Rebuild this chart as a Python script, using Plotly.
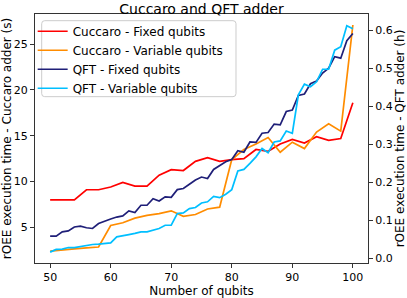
import plotly.graph_objects as go

# ---- data ----
x_even = list(range(50, 101, 2))
x_all = list(range(50, 101))

cuccaro_fixed = [8.0, 8.0, 8.0, 9.1, 9.1, 9.4, 9.9, 9.5, 9.5, 10.7, 11.3, 11.2, 12.2,
                 12.6, 12.2, 12.4, 12.5, 13.5, 13.3, 14.1, 14.6, 14.2, 14.9, 14.5, 14.7, 18.6]
cuccaro_variable = [2.4, 2.55, 2.65, 2.75, 2.85, 5.2, 5.5, 6.0, 6.3, 6.5, 6.8, 6.2, 6.4,
                    7.0, 7.2, 12.4, 13.5, 14.1, 14.8, 13.2, 14.3, 13.6, 15.4, 16.3, 15.5, 27.1]
qft_fixed = [0.059, 0.059, 0.070, 0.0725, 0.083, 0.085, 0.081, 0.079, 0.092, 0.099,
             0.104, 0.109, 0.112, 0.125, 0.121, 0.140, 0.140, 0.157, 0.151, 0.162,
             0.161, 0.181, 0.184, 0.195, 0.206, 0.214, 0.210, 0.234, 0.243, 0.254,
             0.260, 0.283, 0.279, 0.306, 0.305, 0.329, 0.331, 0.353, 0.351, 0.386,
             0.390, 0.428, 0.432, 0.459, 0.466, 0.487, 0.500, 0.530, 0.526, 0.572, 0.591]
qft_variable = [0.017, 0.024, 0.025, 0.029, 0.029, 0.032, 0.033, 0.037, 0.038, 0.039,
                0.041, 0.057, 0.059, 0.063, 0.066, 0.070, 0.070, 0.074, 0.079, 0.0875,
                0.0875, 0.118, 0.120, 0.131, 0.134, 0.146, 0.149, 0.163, 0.160, 0.169,
                0.181, 0.230, 0.234, 0.250, 0.267, 0.289, 0.278, 0.306, 0.309, 0.335,
                0.329, 0.430, 0.458, 0.451, 0.464, 0.497, 0.497, 0.547, 0.556, 0.611, 0.603]

left_ticks = [5, 10, 15, 20, 25]
right_ticks = [0.0, 0.1, 0.2, 0.3, 0.4, 0.5, 0.6]
x_ticks = [50, 60, 70, 80, 90, 100]

FONT = "DejaVu Sans"
LW = 1.7

fig = go.Figure()
fig.add_trace(go.Scatter(x=x_even, y=cuccaro_fixed, mode="lines", name="Cuccaro - Fixed qubits",
                         line=dict(color="#ff0000", width=LW), yaxis="y"))
fig.add_trace(go.Scatter(x=x_even, y=cuccaro_variable, mode="lines", name="Cuccaro - Variable qubits",
                         line=dict(color="#ff8c00", width=LW), yaxis="y"))
fig.add_trace(go.Scatter(x=x_all, y=qft_fixed, mode="lines", name="QFT - Fixed qubits",
                         line=dict(color="#1f1f78", width=LW), yaxis="y2"))
fig.add_trace(go.Scatter(x=x_all, y=qft_variable, mode="lines", name="QFT - Variable qubits",
                         line=dict(color="#00bfff", width=LW), yaxis="y2"))

axis_common = dict(showgrid=False, zeroline=False, showline=True, linecolor="#333333",
                   linewidth=1, ticks="outside", ticklen=4, tickcolor="#333333",
                   automargin=False,
                   tickfont=dict(family=FONT, size=11, color="black"))

# legend frame (rounded box) in paper coordinates
bx0, bx1, by0, by1 = 0.0201, 0.6036, 0.668, 0.9731
rx, ry = 0.009, 0.012
frame_path = (f"M {bx0+rx},{by0} L {bx1-rx},{by0} Q {bx1},{by0} {bx1},{by0+ry} "
              f"L {bx1},{by1-ry} Q {bx1},{by1} {bx1-rx},{by1} "
              f"L {bx0+rx},{by1} Q {bx0},{by1} {bx0},{by1-ry} "
              f"L {bx0},{by0+ry} Q {bx0},{by0} {bx0+rx},{by0} Z")

fig.update_layout(
    width=407, height=298,
    margin=dict(l=35, r=39, t=14, b=35, autoexpand=False),
    paper_bgcolor="white", plot_bgcolor="white",
    font=dict(family=FONT, size=12, color="black"),
    title=dict(text="Cuccaro and QFT adder", x=0.5, xref="paper", yref="container",
               y=0.968, yanchor="middle", pad=dict(t=0, b=0),
               font=dict(family=FONT, size=14, color="black")),
    xaxis=dict(range=[47.5, 102.5], tickvals=x_ticks, mirror=True,
               title=dict(text="Number of qubits", standoff=2,
                          font=dict(family=FONT, size=12)), **axis_common),
    yaxis=dict(range=[1.1, 28.3], tickvals=left_ticks,
               title=dict(text="rOEE execution time - Cuccaro adder (s)", standoff=2,
                          font=dict(family=FONT, size=12)), **axis_common),
    yaxis2=dict(range=[-0.0116, 0.642], tickvals=right_ticks, tickformat=".1f",
                overlaying="y", side="right",
                title=dict(text="rOEE execution time - QFT adder (h)", standoff=0,
                           font=dict(family=FONT, size=12)), **axis_common),
    shapes=[dict(type="path", xref="paper", yref="paper", path=frame_path,
                 line=dict(color="#cccccc", width=1), fillcolor="rgba(255,255,255,0.8)",
                 layer="above")],
    legend=dict(x=-0.007, y=0.989, xanchor="left", yanchor="top",
                bgcolor="rgba(0,0,0,0)", borderwidth=0,
                font=dict(family=FONT, size=12), tracegroupgap=0,
                itemwidth=30),
    showlegend=True,
)

fig.write_html("out.html", config={"displayModeBar": False},
               post_script="document.body.style.margin='0';document.body.style.overflow='hidden';")
